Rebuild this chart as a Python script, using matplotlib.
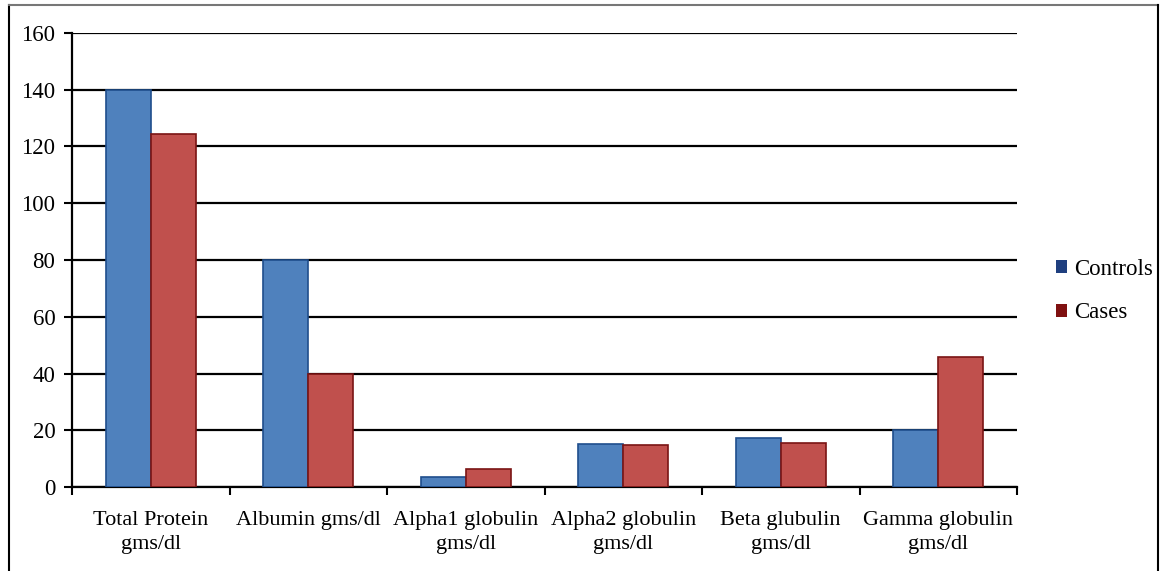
import matplotlib.pyplot as plt
import numpy as np
from matplotlib.lines import Line2D

categories = ['Total Protein\ngms/dl', 'Albumin gms/dl', 'Alpha1 globulin\ngms/dl',
              'Alpha2 globulin\ngms/dl', 'Beta glubulin\ngms/dl', 'Gamma globulin\ngms/dl']
controls = [140, 80, 3.5, 15.1, 17.3, 20]
cases = [124.3, 40, 6.3, 14.7, 15.6, 45.7]

plt.rcParams['font.family'] = ['Liberation Serif', 'DejaVu Serif']

fig = plt.figure(figsize=(11.61, 5.71), dpi=100)
ax = fig.add_axes([72 / 1161, 1 - 487 / 571, (1017 - 72) / 1161, (487 - 33) / 571])

x = np.arange(len(categories))
w = 0.285
ax.bar(x - w / 2, controls, w, color='#4F81BD', edgecolor='#1F4E8C', linewidth=1.2,
       label='Controls', zorder=3)
ax.bar(x + w / 2, cases, w, color='#C0504D', edgecolor='#7A1414', linewidth=1.2,
       label='Cases', zorder=3)

ax.set_xlim(-0.5, len(categories) - 0.5)
ax.set_ylim(0, 160)
ax.set_yticks(np.arange(0, 161, 20))
ax.yaxis.grid(True, color='black', linewidth=1.6, zorder=0)
ax.set_axisbelow(True)

ax.set_xticks(np.arange(-0.5, len(categories)), labels=[])
ax.set_xticks(x, minor=True)
ax.set_xticklabels(categories, minor=True, linespacing=1.35)
ax.tick_params(axis='x', which='major', direction='out', length=6, width=1.5, color='black')
ax.tick_params(axis='x', which='minor', length=0, pad=17, labelsize=16)
ax.tick_params(axis='y', direction='out', length=6, width=1.5, labelsize=16.5, pad=6)

for s in ['top', 'right']:
    ax.spines[s].set_visible(False)
for s in ['left', 'bottom']:
    ax.spines[s].set_linewidth(1.6)
    ax.spines[s].set_color('black')

handles = [plt.Rectangle((0, 0), 1, 1, facecolor='#1F3F7F'),
           plt.Rectangle((0, 0), 1, 1, facecolor='#7F1010')]
fig.legend(handles, ['Controls', 'Cases'], loc='center left', bbox_to_anchor=(1035 / 1161, 1 - 291 / 571),
           frameon=False, fontsize=16.5, handlelength=0.5, handleheight=0.5, handletextpad=0.3,
           labelspacing=1.0)

# outer frame of the picture
fig.add_artist(Line2D([9 / 1161, 9 / 1161], [0, 1 - 5 / 571], color='black', linewidth=1.5))
fig.add_artist(Line2D([9 / 1161, 1158 / 1161], [1 - 5 / 571, 1 - 5 / 571], color='#777777', linewidth=1.5))
fig.add_artist(Line2D([1158 / 1161, 1158 / 1161], [0, 1 - 5 / 571], color='black', linewidth=1.5))

fig.savefig('out.png', dpi=100)
